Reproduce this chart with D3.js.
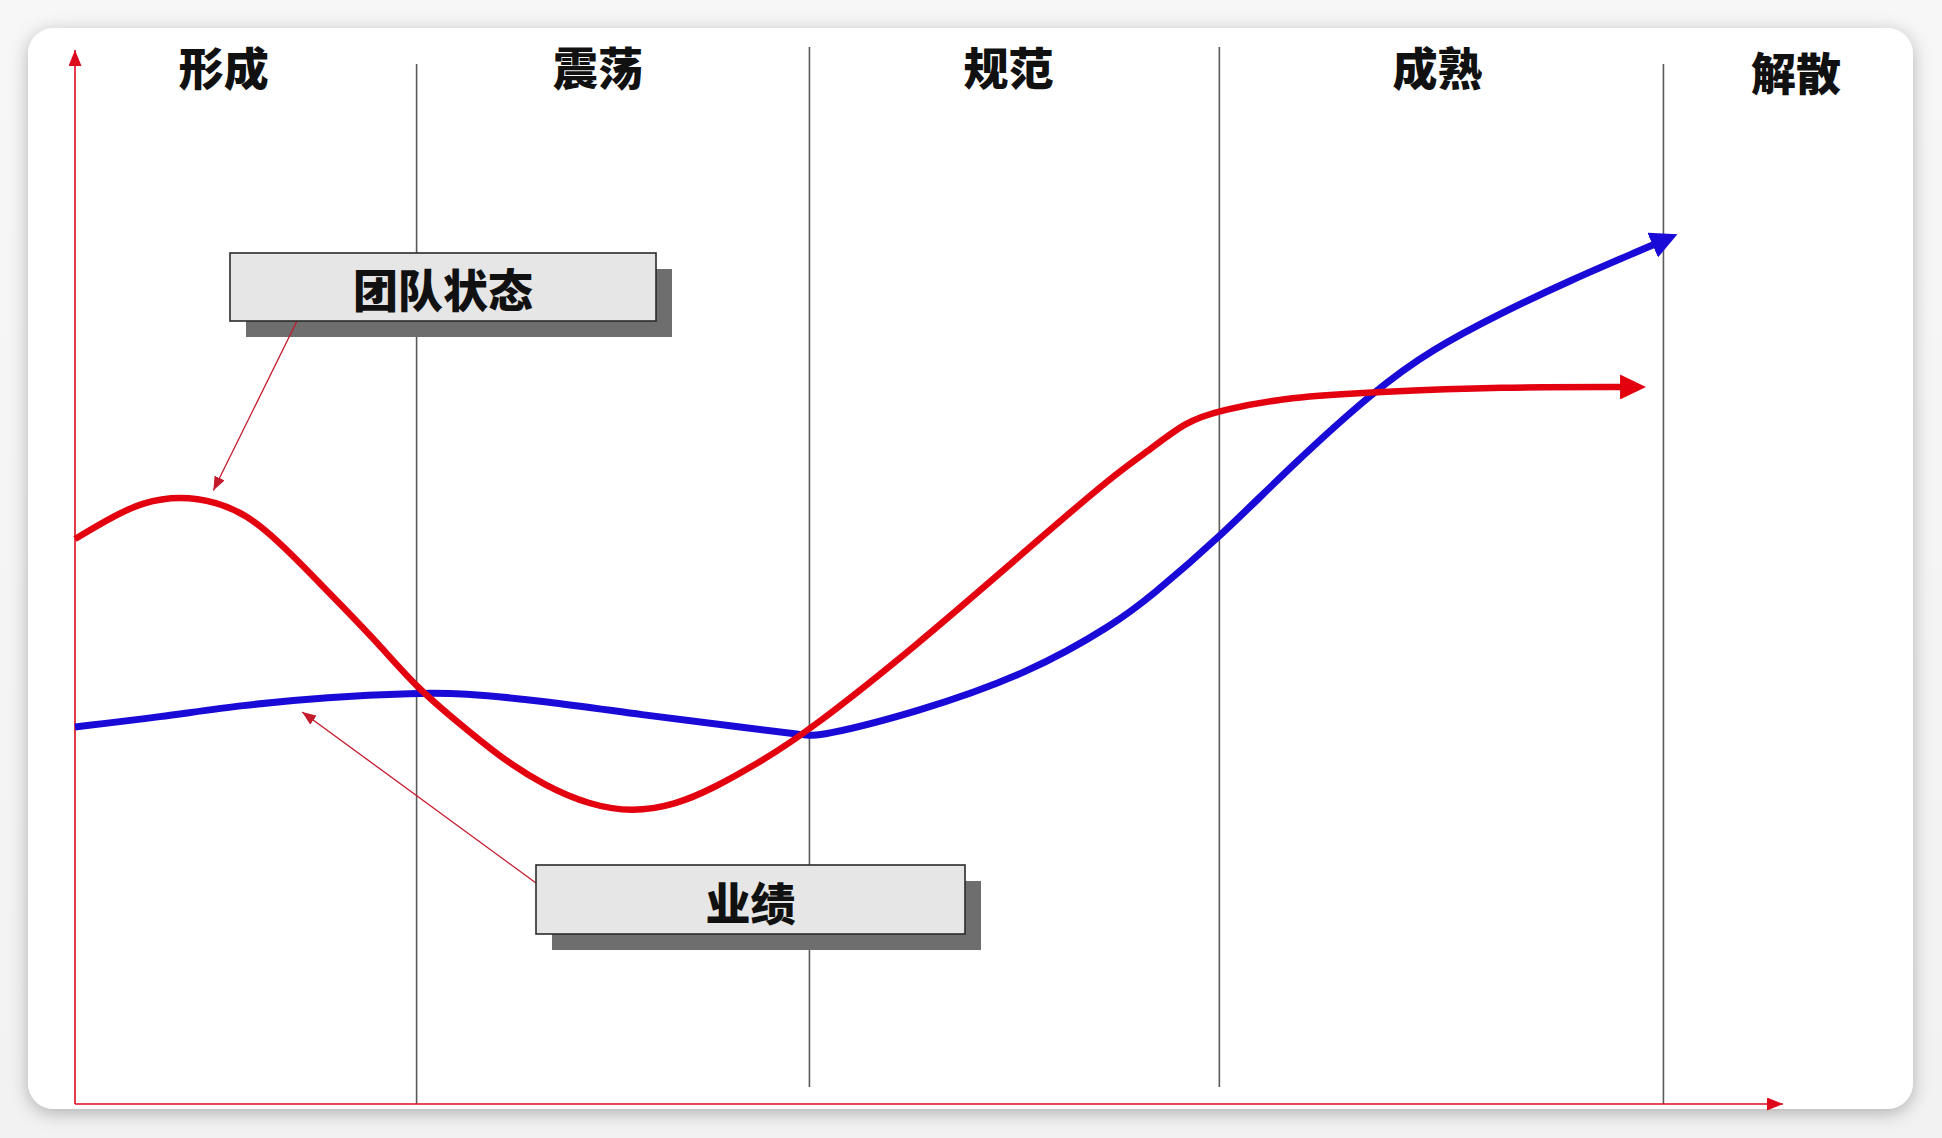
<!DOCTYPE html>
<html>
<head>
<meta charset="utf-8">
<script src="https://cdn.jsdelivr.net/npm/d3@7"></script>
<style>
  html, body { margin: 0; padding: 0; background: #f0f0f0; }
  svg { display: block; }
</style>
</head>
<body>
<svg id="chart" width="1942" height="1138"></svg>
<script>
// ---------------- data ----------------
const stageNames  = ["形成", "震荡", "规范", "成熟", "解散"];
const stageBounds = [0, 20, 43, 67, 93, 109];          // stage boundaries on the time axis
const seriesNames = ["团队状态", "业绩"];

// 团队状态 (team state) curve
const teamX = [0, 2.05, 3.98, 6.15, 8.31, 10.07, 11.83, 13.76, 15.69, 17.68, 20.02, 22.54, 24.88, 27.52, 30.15, 32.61, 35.13, 37.41, 40.11, 42.80, 49.18, 55.91, 60.95, 62.94, 64.99, 67.04, 71.14, 76.11, 83.49, 91.04];
const teamY = [53.61, 55.60, 57.12, 57.69, 57.12, 55.88, 53.51, 50.38, 47.15, 43.83, 39.47, 36.05, 32.92, 30.17, 28.37, 27.70, 28.37, 29.98, 32.45, 35.20, 43.36, 52.85, 59.87, 62.05, 64.71, 65.84, 67.08, 67.55, 68.03, 68.03];

// 业绩 (performance) curve
const perfX = [0, 4.98, 9.84, 14.75, 20.02, 22.54, 27.52, 33.20, 38.88, 42.80, 43.44, 49.18, 55.91, 60.95, 62.94, 67.04, 71.14, 76.11, 79.39, 83.49, 87.59, 91.69, 92.92];
const perfY = [35.77, 36.72, 37.86, 38.61, 38.99, 38.99, 38.24, 36.91, 35.77, 35.01, 34.82, 37.10, 40.89, 45.64, 48.10, 53.80, 60.44, 67.74, 71.54, 75.05, 78.18, 81.02, 81.88];

// points the two callouts refer to (data coords)
const calloutTargetX = [8.1, 13.3];
const calloutTargetY = [58.2, 37.2];

// ---------------- drawing ----------------
const W = 1942, H = 1138;
const svg = d3.select("#chart");
const x = d3.scaleLinear().domain([0, 100]).range([75, 1783]);
const y = d3.scaleLinear().domain([0, 100]).range([1104, 50]);

const RED = "#e3000f", BLUE = "#1a0ad8", AXIS = "#dd0a1e", LEAD = "#c41a2c";
const FONT = "'Noto Sans CJK SC', 'Noto Sans CJK TC', sans-serif";

const defs = svg.append("defs");
const bgGrad = defs.append("linearGradient").attr("id", "bgGrad").attr("x1", 0).attr("y1", 0).attr("x2", 0).attr("y2", 1);
bgGrad.append("stop").attr("offset", "0%").attr("stop-color", "#f7f7f7");
bgGrad.append("stop").attr("offset", "100%").attr("stop-color", "#f2f2f2");

const shadow = defs.append("filter").attr("id", "cardShadow")
  .attr("x", "-5%").attr("y", "-5%").attr("width", "110%").attr("height", "115%");
shadow.append("feDropShadow").attr("dx", 0).attr("dy", 4).attr("stdDeviation", 9)
  .attr("flood-color", "#000").attr("flood-opacity", 0.28);

function marker(id, len, wid, color, refFrac) {
  defs.append("marker").attr("id", id)
    .attr("markerUnits", "userSpaceOnUse")
    .attr("markerWidth", len).attr("markerHeight", wid)
    .attr("viewBox", `0 0 ${len} ${wid}`)
    .attr("refX", len * refFrac).attr("refY", wid / 2)
    .attr("orient", "auto")
    .append("path").attr("d", `M0,0 L${len},${wid / 2} L0,${wid} Z`).attr("fill", color);
}
marker("axisHead", 16, 13, AXIS, 1);
marker("redHead", 26, 25, RED, 0.38);
marker("blueHead", 27, 27, BLUE, 0.38);
marker("leadHead", 14, 11, LEAD, 1);

// background + card
svg.append("rect").attr("width", W).attr("height", H).attr("fill", "url(#bgGrad)");
svg.append("rect").attr("x", 28).attr("y", 28).attr("width", 1885).attr("height", 1081)
  .attr("rx", 26).attr("ry", 26).attr("fill", "#ffffff").attr("filter", "url(#cardShadow)");

// stage dividers
const dividerExt = [[64, 1104], [47, 1087], [47, 1087], [64, 1104]];
svg.append("g").selectAll("line").data(stageBounds.slice(1, -1)).join("line")
  .attr("x1", d => x(d)).attr("x2", d => x(d))
  .attr("y1", (d, i) => dividerExt[i][0]).attr("y2", (d, i) => dividerExt[i][1])
  .attr("stroke", "#5a5a5a").attr("stroke-width", 1.6);

// axes
svg.append("line").attr("x1", x(0)).attr("x2", x(0)).attr("y1", y(0)).attr("y2", y(100))
  .attr("stroke", AXIS).attr("stroke-width", 1.6).attr("marker-end", "url(#axisHead)");
svg.append("line").attr("x1", x(0)).attr("x2", x(100)).attr("y1", y(0)).attr("y2", y(0))
  .attr("stroke", AXIS).attr("stroke-width", 1.6).attr("marker-end", "url(#axisHead)");

// stage labels (centred on each stage, with small layout nudges)
const labelNudge = [-22, -15, -6, -4, -4];
const labelY = [66.5, 66.5, 66.5, 66.5, 71.5];
svg.append("g").selectAll("text").data(stageNames).join("text")
  .attr("x", (d, i) => x((stageBounds[i] + stageBounds[i + 1]) / 2) + labelNudge[i])
  .attr("y", (d, i) => labelY[i])
  .attr("text-anchor", "middle").attr("dominant-baseline", "central")
  .attr("font-family", FONT).attr("font-weight", 900).attr("font-size", 45)
  .attr("fill", "#111").text(d => d);

// curves
const line = d3.line().x(d => x(d[0])).y(d => y(d[1])).curve(d3.curveBasis);
const perf = perfX.map((v, i) => [v, perfY[i]]);
const team = teamX.map((v, i) => [v, teamY[i]]);
svg.append("path").datum(perf).attr("d", line).attr("fill", "none")
  .attr("stroke", BLUE).attr("stroke-width", 7).attr("stroke-linejoin", "round")
  .attr("marker-end", "url(#blueHead)");
svg.append("path").datum(team).attr("d", line).attr("fill", "none")
  .attr("stroke", RED).attr("stroke-width", 6.5).attr("stroke-linejoin", "round")
  .attr("marker-end", "url(#redHead)");

// callouts
const boxes = [
  { x0: 230, y0: 253, x1: 656, y1: 321, ax: 297, ay: 321 },
  { x0: 536, y0: 865, x1: 965, y1: 934, ax: 536, ay: 883 }
];
const cg = svg.append("g");
boxes.forEach((b, i) => {
  cg.append("rect").attr("x", b.x0 + 16).attr("y", b.y0 + 16)
    .attr("width", b.x1 - b.x0).attr("height", b.y1 - b.y0).attr("fill", "#6e6e6e");
  cg.append("line").attr("x1", b.ax).attr("y1", b.ay)
    .attr("x2", x(calloutTargetX[i])).attr("y2", y(calloutTargetY[i]))
    .attr("stroke", LEAD).attr("stroke-width", 1.3).attr("marker-end", "url(#leadHead)");
  cg.append("rect").attr("x", b.x0).attr("y", b.y0)
    .attr("width", b.x1 - b.x0).attr("height", b.y1 - b.y0)
    .attr("fill", "#e6e6e6").attr("stroke", "#2b2b2b").attr("stroke-width", 1.6);
  cg.append("text").attr("x", (b.x0 + b.x1) / 2).attr("y", (b.y0 + b.y1) / 2 + 1.5)
    .attr("text-anchor", "middle").attr("dominant-baseline", "central")
    .attr("font-family", FONT).attr("font-weight", 900).attr("font-size", 45)
    .attr("fill", "#111").text(seriesNames[i]);
});
</script>
</body>
</html>
